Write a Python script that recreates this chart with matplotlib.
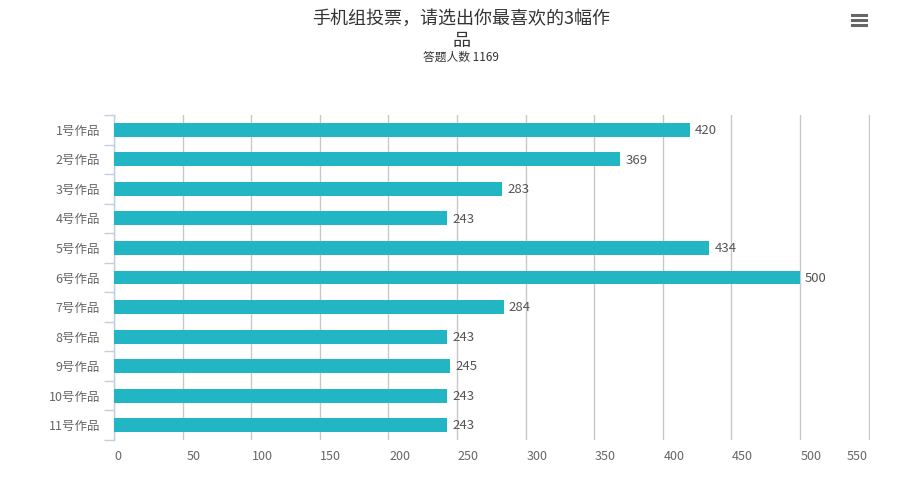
import matplotlib
matplotlib.use("Agg")
import matplotlib.pyplot as plt
from matplotlib.transforms import ScaledTranslation
from matplotlib.lines import Line2D

plt.rcParams['font.family'] = ['Noto Sans CJK SC', 'DejaVu Sans']

categories = ["1号作品", "2号作品", "3号作品", "4号作品", "5号作品", "6号作品",
              "7号作品", "8号作品", "9号作品", "10号作品", "11号作品"]
values = [420, 369, 283, 243, 434, 500, 284, 243, 245, 243, 243]
x_ticks = [0, 50, 100, 150, 200, 250, 300, 350, 400, 450, 500, 550]
title = "手机组投票，请选出你最喜欢的3幅作\n品"
subtitle = "答题人数 1169"

W, H = 922, 491
fig = plt.figure(figsize=(W / 100, H / 100), dpi=100)
L, R, T, B = 114, 870, 115, 440
ax = fig.add_axes([L / W, (H - B) / H, (R - L) / W, (B - T) / H])

ypos = list(range(len(categories)))
ax.barh(ypos, values, height=0.47, color="#22B5C4", zorder=3)
ax.set_ylim(len(categories) - 0.5, -0.5)
ax.set_xlim(0, 551)

for y, v in zip(ypos, values):
    ax.annotate(str(v), (v, y), xytext=(3.5, -0.5), textcoords="offset points",
                va="center", ha="left", fontsize=9.5, color="#555555", zorder=4)

# grid
ax.set_xticks(x_ticks)
ax.xaxis.grid(True, color="#C8C8C8", linewidth=1, zorder=0)
ax.yaxis.grid(False)
for s in ["top", "right", "bottom"]:
    ax.spines[s].set_visible(False)
ax.spines["left"].set_color("#C0D0E0")
ax.spines["left"].set_linewidth(1)

ax.tick_params(axis="x", length=0, pad=7, labelsize=9, labelcolor="#666666")
ax.set_xticklabels([str(t) for t in x_ticks])
offsets = {0: 3, 550: -8}
for t, lab in zip(x_ticks, ax.get_xticklabels()):
    dx = offsets.get(t, 8)
    lab.set_transform(lab.get_transform() + ScaledTranslation(dx / 72, 0, fig.dpi_scale_trans))

# y ticks: labels at categories, tick marks at boundaries
ax.set_yticks(ypos)
ax.set_yticklabels(categories)
ax.tick_params(axis="y", length=0, pad=10, labelsize=9, labelcolor="#666666")
ax.set_yticks([i - 0.5 for i in range(len(categories) + 1)], minor=True)
ax.tick_params(axis="y", which="minor", length=7, width=1, color="#C0D0E0")

# title
fig.text(0.5, 1 - 30 / H, title, ha="center", va="center", fontsize=13,
         color="#333333", linespacing=1.35)
fig.text(0.5, 1 - 57 / H, subtitle, ha="center", va="center", fontsize=8.5,
         color="#333333")

# menu icon
for yy in [15, 20, 25]:
    fig.add_artist(Line2D([852 / W, 866 / W], [1 - yy / H, 1 - yy / H],
                          color="#666666", linewidth=2.2, transform=fig.transFigure))

fig.savefig("out.png", dpi=100, facecolor="white")
